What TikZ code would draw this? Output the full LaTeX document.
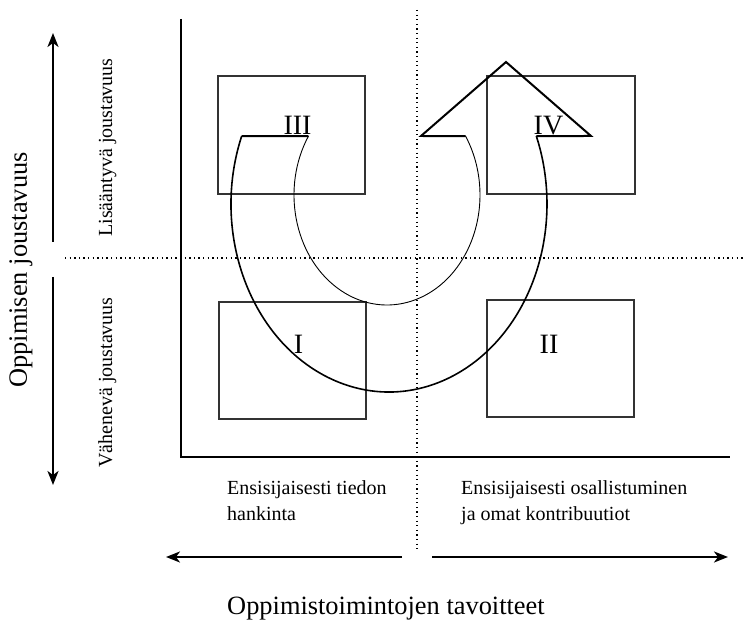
\documentclass[tikz,border=0pt]{standalone}
\usepackage{fontspec}
\setmainfont{Liberation Serif}
\usetikzlibrary{arrows.meta}
\begin{document}
\begin{tikzpicture}[x=1pt,y=-1pt,
  quad/.style={draw=black!80, line width=1.1pt, inner sep=0pt, minimum width=147pt, minimum height=117pt},
  axisline/.style={line width=2.6pt},
  dotline/.style={line width=1.3pt, dash pattern=on 1.3pt off 3.3pt},
  arr/.style={line width=1.8pt, -{Stealth[length=14pt,width=11pt,inset=4pt]}},
  lbl/.style={font=\fontsize{20}{24}\selectfont, inner sep=0pt},
  biglbl/.style={font=\fontsize{26.4}{30}\selectfont, inner sep=0pt},
  num/.style={font=\fontsize{28}{30}\selectfont, inner sep=0pt, anchor=base},
  outerarc/.style={line width=1.6pt},
  innerarc/.style={line width=0.9pt},
  headline/.style={line width=2pt, line join=miter}
]
\useasboundingbox (0,0) rectangle (745,620);
% quadrant boxes
\node[quad, minimum width=147pt, minimum height=118pt] (b3) at (291.5,135) {};
\node[quad, minimum width=148pt, minimum height=118pt] (b4) at (561,135) {};
\node[quad] (b1) at (292.5,360.5) {};
\node[quad] (b2) at (560.5,358.5) {};
% dotted lines
\coordinate (vt) at (417,10);
\coordinate (vb) at (417,550);
\coordinate (hl) at (65,258);
\coordinate (hr) at (745,258);
\draw[dotline] (vt) -- (vb);
\draw[dotline] (hl) -- (hr);
% axes
\coordinate (ytop) at (181,19);
\coordinate (origin) at (181,457);
\coordinate (xend) at (730,457);
\draw[axisline] (ytop) -- (origin) -- (xend);
% U-turn arrow
\coordinate (oc) at (389,204);
\coordinate (ic) at (387,195);
\draw[outerarc] (oc) ++(201.2:158 and 188) coordinate (o1)
  arc[start angle=201.2, end angle=-21.2, x radius=158, y radius=188] coordinate (o2);
\draw[innerarc] (ic) ++(212.4:93 and 110) coordinate (i1)
  arc[start angle=212.4, end angle=-32.4, x radius=93, y radius=110] coordinate (i2);
\draw[headline] (o1) -- (i1);
\coordinate (tl) at (421,136);
\coordinate (tapex) at (506,62);
\coordinate (tr) at (591,136);
\draw[headline] (i2) -- (tl) -- (tapex) -- (tr) -- (o2);
% numerals
\node[num] (n3) at (297.5,135) {III};
\node[num] (n4) at (548.5,135) {IV};
\node[num] (n1) at (298.5,354) {I};
\node[num] (n2) at (549,354) {II};
% side arrows
\coordinate (up0) at (53,242);
\coordinate (up1) at (53,33);
\coordinate (dn0) at (53,277);
\coordinate (dn1) at (53,485);
\draw[arr] (up0) -- (up1);
\draw[arr] (dn0) -- (dn1);
\coordinate (lf0) at (402,557);
\coordinate (lf1) at (166,557);
\coordinate (rt0) at (432,557);
\coordinate (rt1) at (728,557);
\draw[arr] (lf0) -- (lf1);
\draw[arr] (rt0) -- (rt1);
% labels
\node[biglbl, rotate=90, anchor=base] (ylab) at (27,270) {Oppimisen joustavuus};
\node[lbl, rotate=90, anchor=base] (yup) at (112,147.5) {Lisääntyvä joustavuus};
\node[lbl, rotate=90, anchor=base] (ydn) at (112,382.5) {Vähenevä joustavuus};
\node[lbl, anchor=base west] (xl1) at (227,494) {Ensisijaisesti tiedon};
\node[lbl, anchor=base west] (xl2) at (227,520) {hankinta};
\node[lbl, anchor=base west] (xr1) at (461,494) {Ensisijaisesti osallistuminen};
\node[lbl, anchor=base west] (xr2) at (461,520) {ja omat kontribuutiot};
\node[biglbl, anchor=base west] (xlab) at (227,614) {Oppimistoimintojen tavoitteet};
\end{tikzpicture}
\end{document}
